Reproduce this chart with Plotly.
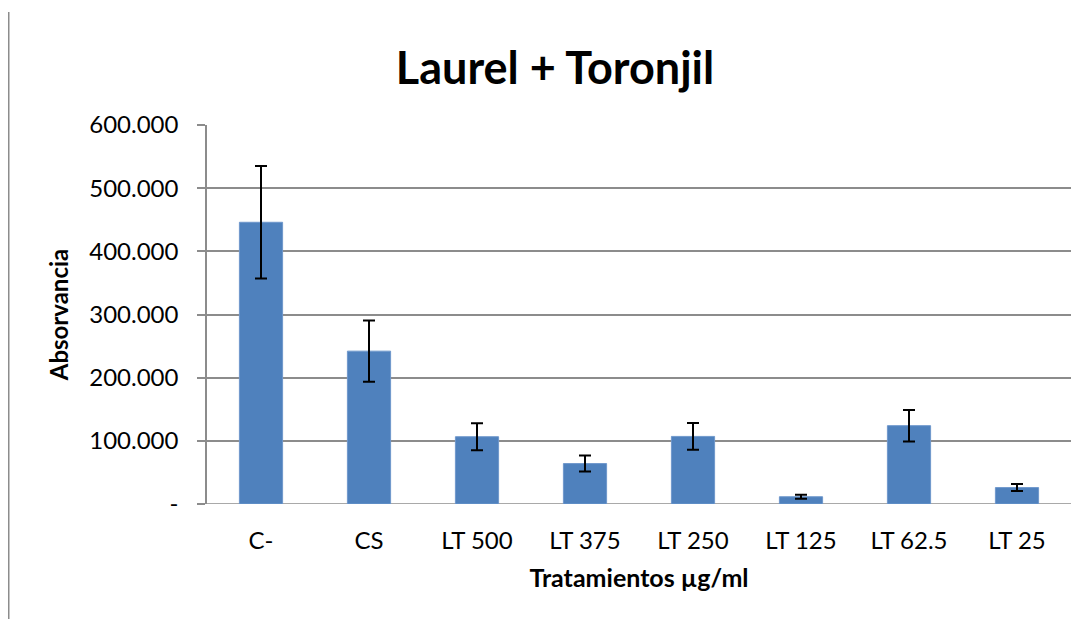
import plotly.graph_objects as go

categories = ["C-", "CS", "LT 500", "LT 375", "LT 250", "LT 125", "LT 62.5", "LT 25"]
values = [446, 242, 106.5, 64, 107, 11.5, 124, 26]
errors = [89, 48.5, 21.5, 12.7, 21.3, 3.2, 25, 5.5]
ytick_vals = [0, 100, 200, 300, 400, 500, 600]
ytick_text = ["-", "100.000", "200.000", "300.000", "400.000", "500.000", "600.000"]

FONT = "Lato"
GRID = "#8c8c8c"

# page has an 8px body margin; figure is sized so the plot area lands where the reference has it
W, H = 1080, 611
L, R, T, B = 199, 17, 117, 115
PW = W - L - R
PH = H - T - B

fig = go.Figure(
    go.Bar(
        x=categories,
        y=values,
        marker=dict(color="#4F81BD", line=dict(color="#6f98cc", width=1)),
        error_y=dict(type="data", array=errors, color="black", thickness=2, width=6),
    )
)

fig.update_layout(
    width=W,
    height=H,
    paper_bgcolor="white",
    plot_bgcolor="white",
    margin=dict(l=L, r=R, t=T, b=B),
    bargap=0.6,
    showlegend=False,
    font=dict(family=FONT, color="black", size=22),
    title=dict(
        text="<b>Laurel + Toronjil</b>",
        x=(555 - 8) / W,
        xanchor="center",
        xref="container",
        y=1 - (68 - 8) / H,
        yref="container",
        yanchor="middle",
        font=dict(family=FONT, size=45, color="black"),
    ),
    xaxis=dict(
        title=dict(text="<b>Tratamientos µg/ml</b>", font=dict(family=FONT, size=25), standoff=16),
        showgrid=False,
        showline=False,
        ticks="",
        tickfont=dict(family=FONT, size=24),
        ticklabelstandoff=20,
    ),
    yaxis=dict(
        range=[0, 600],
        tickvals=ytick_vals,
        ticktext=ytick_text,
        showgrid=True,
        gridcolor=GRID,
        gridwidth=1.5,
        showline=True,
        linecolor=GRID,
        linewidth=1.5,
        ticks="outside",
        ticklen=8,
        tickcolor=GRID,
        tickwidth=1.5,
        zeroline=False,
        tickfont=dict(family=FONT, size=24),
        ticklabelstandoff=14,
        title=dict(text="<b>Absorvancia</b>", font=dict(family=FONT, size=24), standoff=14),
    ),
    shapes=[
        dict(type="line", xref="paper", yref="y", x0=-8 / PW, x1=1.0, y0=0, y1=0,
             line=dict(color=GRID, width=1.5), layer="below"),
        dict(type="line", xref="paper", yref="paper",
             x0=(0.5 - L) / PW, x1=(0.5 - L) / PW,
             y0=(PH + T - H - 10) / PH, y1=(PH + T - 4) / PH,
             line=dict(color="#8c8c8c", width=2)),
    ],
)

fig.write_html("out.html")
